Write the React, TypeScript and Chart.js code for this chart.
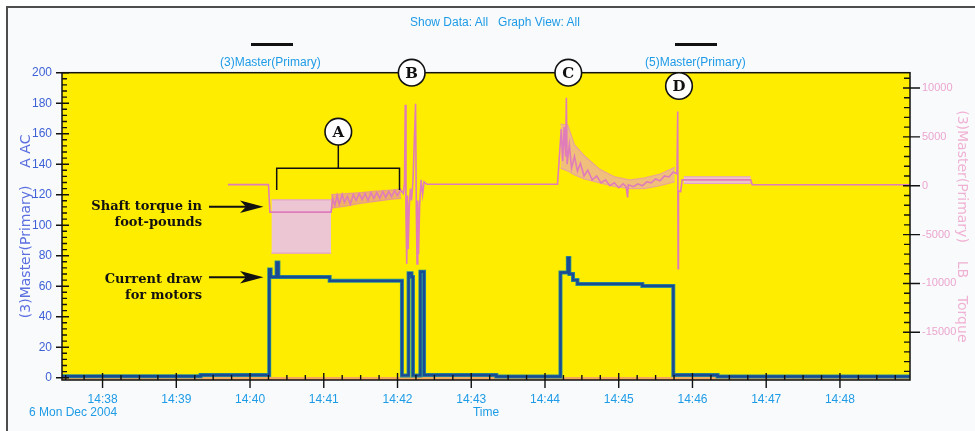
import React, { useEffect, useRef } from 'react';
import { Chart, registerables } from 'chart.js';
Chart.register(...registerables);

// ---- axis ticks ----
const xTickValues = [38, 39, 40, 41, 42, 43, 44, 45, 46, 47, 48];
const xTickLabels = ['14:38', '14:39', '14:40', '14:41', '14:42', '14:43', '14:44', '14:45', '14:46', '14:47', '14:48'];
const leftTickValues = [0, 20, 40, 60, 80, 100, 120, 140, 160, 180, 200];
const rightTickValues = [-15000, -10000, -5000, 0, 5000, 10000];
const rightTickLabels = ['-15000', '-10000', '-5000', '0', '5000', '10000'];

// ---- current draw (A AC), minutes after 14:00, stepped ----
const currentTime = [37.45, 39.33, 40.26, 40.28, 40.36, 40.385, 41.08, 42.06, 42.15, 42.19, 42.21, 42.31, 42.36, 43.34, 44.21, 44.31, 44.33, 44.38, 44.44, 45.32, 45.74, 46.34, 48.95];
const currentAmps = [1.0, 1.8, 71, 66, 75.5, 66, 63.5, 1.5, 68.5, 66, 1.5, 69.5, 1.8, 0.8, 69, 78.5, 68, 64, 61.5, 60.2, 1.8, 0.8, 0.8];

// ---- shaft torque (LB), minutes after 14:00 ----
const torqueTime = [39.7, 40.25, 40.27, 41.1, 41.12, 41.15, 41.18, 41.21, 41.25, 41.28, 41.32, 41.36, 41.4, 41.44, 41.48, 41.52, 41.56, 41.6, 41.64, 41.68, 41.72, 41.76, 41.8, 41.84, 41.88, 41.92, 41.96, 42.0, 42.04, 42.08, 42.095, 42.105, 42.115, 42.125, 42.135, 42.145, 42.16, 42.175, 42.19, 42.21, 42.245, 42.255, 42.265, 42.275, 42.285, 42.3, 42.32, 42.34, 42.36, 42.4, 44.17, 44.2, 44.22, 44.24, 44.26, 44.28, 44.29, 44.3, 44.33, 44.36, 44.4, 44.44, 44.48, 44.53, 44.58, 44.64, 44.7, 44.76, 44.82, 44.88, 44.94, 45.0, 45.06, 45.1, 45.12, 45.13, 45.2, 45.26, 45.32, 45.38, 45.44, 45.5, 45.56, 45.62, 45.68, 45.74, 45.79, 45.8, 45.805, 45.81, 45.84, 45.86, 46.79, 46.81, 48.95];
const torqueLb = [120, 120, -2700, -2700, -1300, -2000, -1000, -1900, -900, -1700, -1100, -1900, -900, -1500, -800, -1400, -800, -1500, -700, -1300, -700, -1300, -600, -1200, -600, -1100, -500, -1000, -400, -800, 300, 8300, -3000, -8000, -1000, -6500, -2000, -300, -1500, 500, 8400, -2500, -8000, -1500, -7000, -2000, 600, -900, 400, 150, 150, 3500, 5800, 2500, 6000, 3000, 9000, 2200, 4200, 1800, 3000, 1500, 2300, 1000, 1600, 600, 1000, 300, 600, 0, 300, -200, 200, -100, -1200, 100, -100, 200, 0, 400, 300, 700, 500, 1000, 900, 1400, 1200, 7600, -8500, -500, -600, 600, 600, 100, 100];

// ---- torque envelopes (LB) ----
const bandATime = [40.29, 41.1];
const bandAHigh = [-1450, -1450];
const bandALow = [-6900, -6900];
const bandRampTime = [41.1, 41.3, 41.5, 41.7, 41.9, 42.05];
const bandRampHigh = [-900, -800, -700, -550, -450, -350];
const bandRampLow = [-2300, -2100, -1800, -1600, -1400, -1300];
const bandCTime = [44.21, 44.31, 44.4, 44.53, 44.74, 44.95, 45.15, 45.35, 45.56, 45.76];
const bandCHigh = [6300, 6200, 4200, 3100, 1700, 900, 600, 800, 1200, 1900];
const bandCLow = [1800, 1500, 1100, 700, 300, -100, -300, -300, 0, 400];
const bandDTime = [45.88, 46.79];
const bandDHigh = [920, 920];
const bandDLow = [230, 230];

const zip = (xs: number[], ys: number[]) => xs.map((x, i) => ({ x, y: ys[i] }));

const framePlugin = {
  id: 'framePlugin',
  beforeDraw(chart: any) {
    const { ctx, chartArea: a } = chart;
    ctx.save();
    ctx.fillStyle = '#ffed00';
    ctx.fillRect(a.left, a.top, a.right - a.left, a.bottom - a.top);
    ctx.fillStyle = '#f3a85c';
    ctx.fillRect(a.left, a.bottom - 3, a.right - a.left, 3);
    ctx.restore();
  },
  afterDraw(chart: any) {
    const { ctx, chartArea: a, scales } = chart;
    ctx.save();
    ctx.strokeStyle = '#111';
    ctx.lineWidth = 1.5;
    ctx.strokeRect(a.left, a.top, a.right - a.left, a.bottom - a.top);
    ctx.lineWidth = 1.4;
    ctx.beginPath();
    const xs = scales.x;
    for (let m = 37.5; m <= 48.95; m += 0.25) {
      const px = xs.getPixelForValue(m);
      if (Number.isInteger(m)) {
        ctx.moveTo(px, a.bottom - 7);
        ctx.lineTo(px, a.bottom + 8);
      } else {
        ctx.moveTo(px, a.bottom - 5);
        ctx.lineTo(px, a.bottom);
      }
    }
    const ys = scales.y;
    for (let v = 0; v <= 200; v += 4) {
      const py = ys.getPixelForValue(v);
      if (v % 20 === 0) {
        ctx.moveTo(a.left - 6, py);
        ctx.lineTo(a.left + 7, py);
      } else {
        ctx.moveTo(a.left, py);
        ctx.lineTo(a.left + 5, py);
      }
    }
    const y1 = scales.y1;
    for (let v = -19000; v <= 11000; v += 1000) {
      const py = y1.getPixelForValue(v);
      if (v % 5000 === 0) {
        ctx.moveTo(a.right - 7, py);
        ctx.lineTo(a.right + 10, py);
      } else {
        ctx.moveTo(a.right - 6, py);
        ctx.lineTo(a.right, py);
      }
    }
    ctx.stroke();
    ctx.restore();
  },
};

function band(times: number[], hi: number[], lo: number[], fillColor: string, edge: string, order: number) {
  return [
    { data: zip(times, hi), yAxisID: 'y1', borderColor: edge, borderWidth: 1.2, pointRadius: 0, fill: false, order },
    { data: zip(times, lo), yAxisID: 'y1', borderColor: edge, borderWidth: 1.2, pointRadius: 0, fill: '-1', backgroundColor: fillColor, order },
  ];
}

export default function App() {
  const ref = useRef<HTMLCanvasElement | null>(null);
  useEffect(() => {
    if (!ref.current) return;
    const blue = '#1e9be6';
    const chart = new Chart(ref.current, {
      type: 'line',
      data: {
        datasets: [
          { data: zip(currentTime, currentAmps), yAxisID: 'y', borderColor: '#1b4a95', borderWidth: 2.4, stepped: true, pointRadius: 0, order: 0 } as any,
          { data: zip(currentTime, currentAmps), yAxisID: 'y', borderColor: '#2b9191', borderWidth: 4, stepped: true, pointRadius: 0, order: 1 } as any,
          { data: zip(torqueTime, torqueLb), yAxisID: 'y1', borderColor: '#e07cba', borderWidth: 1.6, pointRadius: 0, order: 2 } as any,
          ...band(bandATime, bandAHigh, bandALow, 'rgba(236,196,222,0.95)', '#e3a2cc', 3),
          ...band(bandRampTime, bandRampHigh, bandRampLow, 'rgba(226,128,188,0.55)', 'rgba(226,128,188,0.6)', 3),
          ...band(bandCTime, bandCHigh, bandCLow, 'rgba(232,160,206,0.6)', 'rgba(226,140,196,0.6)', 3),
          ...band(bandDTime, bandDHigh, bandDLow, 'rgba(236,190,220,0.9)', '#e3a2cc', 3),
        ],
      },
      options: {
        animation: false,
        responsive: false,
        events: [],
        layout: { padding: { top: 72.7, left: 0, right: 0, bottom: 0 } },
        plugins: { legend: { display: false }, tooltip: { enabled: false } },
        scales: {
          x: {
            type: 'linear',
            min: 37.45,
            max: 48.95,
            afterBuildTicks: (s: any) => { s.ticks = xTickValues.map((v) => ({ value: v })); },
            afterFit: (s: any) => { s.height = 51; },
            ticks: {
              autoSkip: false, maxRotation: 0, padding: 12, color: blue,
              font: { family: 'Liberation Sans', size: 12 },
              callback: (v: any) => xTickLabels[xTickValues.indexOf(Number(v))] ?? '',
            },
            grid: { display: false, drawTicks: false },
            border: { display: false },
            title: { display: true, text: 'Time', color: blue, font: { family: 'Liberation Sans', size: 12 }, padding: { top: 0, bottom: 11 } },
          },
          y: {
            position: 'left',
            min: -1.5,
            max: 200,
            afterBuildTicks: (s: any) => { s.ticks = leftTickValues.map((v) => ({ value: v })); },
            afterFit: (s: any) => { s.width = 62; },
            ticks: { autoSkip: false, padding: 10, color: '#3e62d6', font: { family: 'Liberation Sans', size: 12 }, callback: (v: any) => String(v) },
            grid: { display: false, drawTicks: false },
            border: { display: false },
            title: { display: true, text: '(3)Master(Primary)    A AC', color: '#5b6fe0', font: { family: 'DejaVu Sans', size: 14 }, padding: { top: 18, bottom: 0 } },
          },
          y1: {
            position: 'right',
            min: -19880,
            max: 11570,
            afterBuildTicks: (s: any) => { s.ticks = rightTickValues.map((v) => ({ value: v })); },
            afterFit: (s: any) => { s.width = 65; },
            ticks: {
              autoSkip: false, padding: 12, color: '#eba6cf', font: { family: 'Liberation Sans', size: 11 },
              callback: (v: any) => rightTickLabels[rightTickValues.indexOf(Number(v))] ?? '',
            },
            grid: { display: false, drawTicks: false },
            border: { display: false },
            title: { display: true, text: '(3)Master(Primary)    LB    Torque', color: '#f0b2d4', font: { family: 'DejaVu Sans', size: 14 }, padding: { top: 5, bottom: 0 } },
          },
        },
      } as any,
      plugins: [framePlugin],
    });
    return () => chart.destroy();
  }, []);

  const blue = '#1e9be6';
  const small: React.CSSProperties = { position: 'absolute', fontFamily: 'Liberation Sans', fontSize: 12, color: blue, whiteSpace: 'pre', lineHeight: '12px' };
  const note: React.CSSProperties = {
    position: 'absolute', right: 975 - 202, fontFamily: "'DejaVu Serif', serif", fontWeight: 'bold',
    fontSize: 13, lineHeight: '16px', textAlign: 'right', color: '#111', whiteSpace: 'pre',
  };
  const circles = [
    { l: 'A', x: 338.3, y: 131.7 },
    { l: 'B', x: 411.7, y: 72.7 },
    { l: 'C', x: 568.3, y: 72.7 },
    { l: 'D', x: 679, y: 86 },
  ];
  return (
    <div style={{ position: 'fixed', left: 0, top: 0, width: 975, height: 431, overflow: 'hidden', background: '#fff' }}>
      <div style={{ position: 'absolute', left: 6, top: 6, width: 1000, height: 500, border: '2px solid #4d4d4d', background: '#f9fafc' }} />
      <canvas ref={ref} width={975} height={431} style={{ position: 'absolute', left: 0, top: 0 }} />
      <div style={{ ...small, left: 410, top: 16 }}>Show Data: All   Graph View: All</div>
      <div style={{ position: 'absolute', left: 251, top: 42.5, width: 42, height: 3, background: '#111' }} />
      <div style={{ ...small, left: 220, top: 55.5 }}>(3)Master(Primary)</div>
      <div style={{ position: 'absolute', left: 675, top: 42.5, width: 42, height: 3, background: '#111' }} />
      <div style={{ ...small, left: 645, top: 55.5 }}>(5)Master(Primary)</div>
      <div style={{ ...small, left: 29, top: 406 }}>6 Mon Dec 2004</div>
      <div style={{ ...note, top: 197.5 }}>{'Shaft torque in\nfoot-pounds'}</div>
      <div style={{ ...note, top: 270.5 }}>{'Current draw\nfor motors'}</div>
      <svg width={975} height={431} style={{ position: 'absolute', left: 0, top: 0 }}>
        <g stroke="#111" strokeWidth={2} fill="none">
          <line x1={209} y1={206.7} x2={247} y2={206.7} />
          <line x1={209} y1={277.3} x2={247} y2={277.3} />
        </g>
        <g fill="#111">
          <path d="M240,200.5 L263.5,206.7 L240,213 L246,206.7 Z" />
          <path d="M240,271.1 L263.5,277.3 L240,283.6 L246,277.3 Z" />
        </g>
        <g stroke="#111" strokeWidth={1.5} fill="none">
          <path d="M276.7,190 V168.3 H399.5 V190" />
          <path d="M338.3,145 V168.3" />
        </g>
        {circles.map((c) => (
          <g key={c.l}>
            <circle cx={c.x} cy={c.y} r={13.3} fill="#fff" stroke="#111" strokeWidth={1.6} />
            <text x={c.x} y={c.y + 5.3} textAnchor="middle" fontFamily="'DejaVu Serif', serif" fontWeight="bold" fontSize={15} fill="#111">{c.l}</text>
          </g>
        ))}
      </svg>
    </div>
  );
}
